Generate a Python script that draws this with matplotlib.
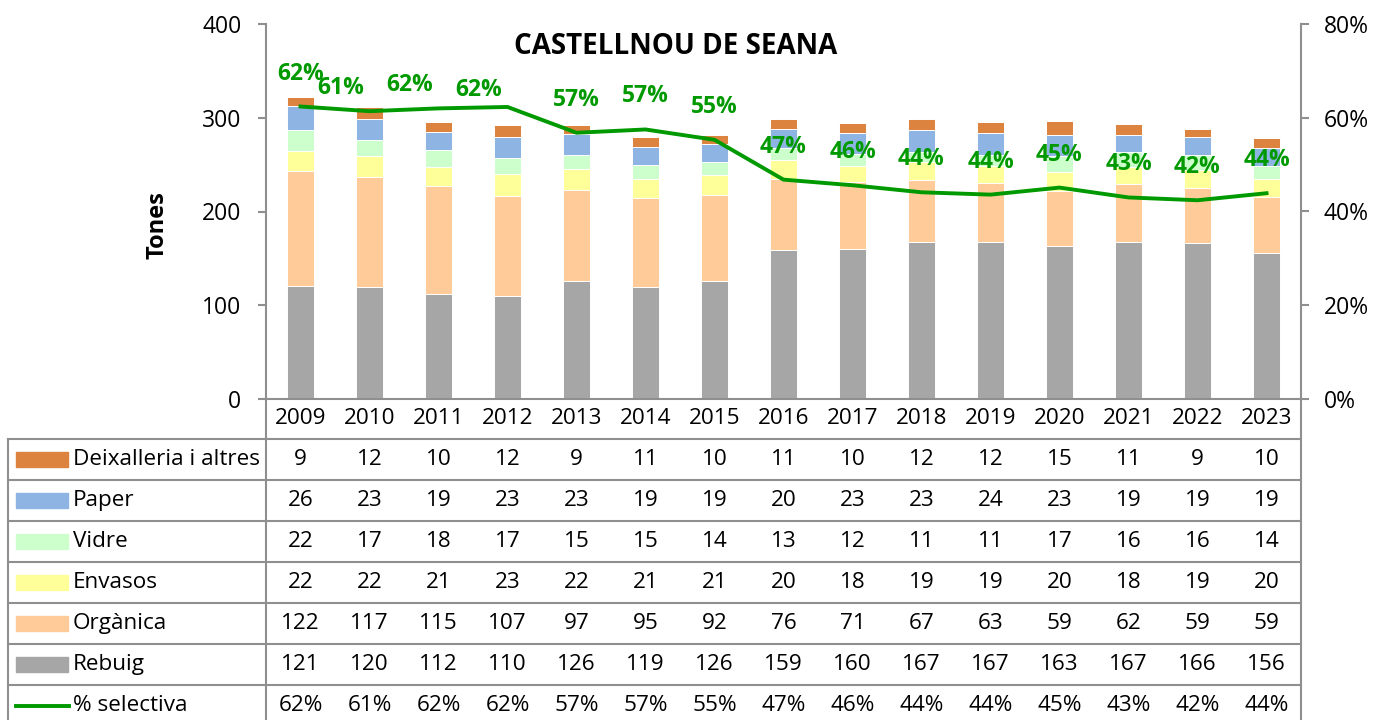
import numpy as np
import matplotlib.pyplot as plt
from matplotlib.transforms import blended_transform_factory
from matplotlib.patches import Rectangle

plt.rcParams['font.family'] = ['Open Sans', 'DejaVu Sans']

years = [2009, 2010, 2011, 2012, 2013, 2014, 2015, 2016, 2017, 2018, 2019, 2020, 2021, 2022, 2023]
rebuig = [121, 120, 112, 110, 126, 119, 126, 159, 160, 167, 167, 163, 167, 166, 156]
organica = [122, 117, 115, 107, 97, 95, 92, 76, 71, 67, 63, 59, 62, 59, 59]
envasos = [22, 22, 21, 23, 22, 21, 21, 20, 18, 19, 19, 20, 18, 19, 20]
vidre = [22, 17, 18, 17, 15, 15, 14, 13, 12, 11, 11, 17, 16, 16, 14]
paper = [26, 23, 19, 23, 23, 19, 19, 20, 23, 23, 24, 23, 19, 19, 19]
deixalleria = [9, 12, 10, 12, 9, 11, 10, 11, 10, 12, 12, 15, 11, 9, 10]
selectiva = [0.624, 0.614, 0.620, 0.623, 0.568, 0.575, 0.553, 0.468, 0.456,
             0.441, 0.436, 0.451, 0.430, 0.424, 0.439]

series = [
    ('Rebuig', rebuig, '#A6A6A6'),
    ('Orgànica', organica, '#FFCC99'),
    ('Envasos', envasos, '#FFFF99'),
    ('Vidre', vidre, '#CCFFCC'),
    ('Paper', paper, '#8EB4E3'),
    ('Deixalleria i altres', deixalleria, '#DC843F'),
]
green = '#009900'
grid_col = '#8F8F8F'
fs = 16.2

W, H = 1391, 720
fig = plt.figure(figsize=(W / 100, H / 100), dpi=100)

x0, x1, ytop, ybot = 266, 1301, 24, 399
ax = fig.add_axes([x0 / W, 1 - ybot / H, (x1 - x0) / W, (ybot - ytop) / H])
x = np.arange(len(years))

bottom = np.zeros(len(years))
for name, vals, col in series:
    ax.bar(x, vals, bottom=bottom, width=0.4, color=col, edgecolor='white', linewidth=0.7, zorder=2)
    bottom += np.array(vals)

ax.set_xlim(-0.5, len(years) - 0.5)
ax.set_ylim(0, 400)
ax.set_yticks([0, 100, 200, 300, 400])
ax.set_xticks([])
for s in ['top', 'right']:
    ax.spines[s].set_visible(False)
for s in ['left', 'bottom']:
    ax.spines[s].set_color(grid_col)
    ax.spines[s].set_linewidth(1.5)
ax.tick_params(axis='y', length=5.8, width=1.5, color=grid_col, labelsize=16.5, pad=12)

ax2 = ax.twinx()
ax2.set_ylim(0, 0.8)
ax2.set_yticks([0, 0.2, 0.4, 0.6, 0.8])
ax2.set_yticklabels(['0%', '20%', '40%', '60%', '80%'])
for s in ['top', 'left', 'bottom']:
    ax2.spines[s].set_visible(False)
ax2.spines['right'].set_color(grid_col)
ax2.spines['right'].set_linewidth(1.5)
ax2.tick_params(axis='y', length=5.8, width=1.5, color=grid_col, labelsize=16.5, pad=10.5)
ax2.plot(x, selectiva, color=green, lw=2.8, zorder=3)

# data labels (2010-2012 sit a bit left and lower, as in the original)
label_off = {1: (-29, 23), 2: (-29, 23), 3: (-29, 17)}
for i, p in enumerate(selectiva):
    dx, dy = label_off.get(i, (0, 33))
    ax2.annotate(f'{round(p * 100)}%', (x[i], p), xytext=(dx, dy), textcoords='offset pixels',
                 ha='center', va='center', color=green, fontsize=16.5, fontweight='bold')

fig.text(676 / W, 1 - 47 / H, 'CASTELLNOU DE SEANA', ha='center', va='center',
         fontsize=20, fontweight='bold')
fig.text(157 / W, 1 - 225 / H, 'Tones', rotation=90, ha='center', va='center',
         fontsize=17, fontweight='bold')

# data table below the chart
tab = fig.add_axes([0, 0, 1, 1], zorder=-1)
tab.set_xlim(0, W)
tab.set_ylim(H, 0)
tab.axis('off')
tr = blended_transform_factory(ax.transData, tab.transData)

row_h = 41
head_y = 419
for i, yr in enumerate(years):
    tab.text(x[i], head_y, str(yr), transform=tr, ha='center', va='center', fontsize=fs)

rows = [(name, vals, col) for name, vals, col in series[::-1]]
for k in range(7):
    yl = 439 + k * row_h
    tab.plot([8, x1], [yl, yl], color=grid_col, lw=1.5)
for xl, yst in [(8, 439), (x0, ybot), (x1, ybot)]:
    tab.plot([xl, xl], [yst, H + 5], color=grid_col, lw=1.5)

for k, (name, vals, col) in enumerate(rows):
    yc = 439 + k * row_h + row_h / 2
    tab.add_patch(Rectangle((16, yc - 7.5), 52, 15, color=col))
    tab.text(73, yc, name, ha='left', va='center', fontsize=fs)
    for i, v in enumerate(vals):
        tab.text(x[i], yc, str(v), transform=tr, ha='center', va='center', fontsize=fs)

yc = 439 + 6 * row_h + row_h / 2
tab.plot([16, 69], [yc, yc], color=green, lw=2.8)
tab.text(73, yc, '% selectiva', ha='left', va='center', fontsize=fs)
for i, p in enumerate(selectiva):
    tab.text(x[i], yc, f'{round(p * 100)}%', transform=tr, ha='center', va='center', fontsize=fs)

fig.savefig('out.png', dpi=100)
